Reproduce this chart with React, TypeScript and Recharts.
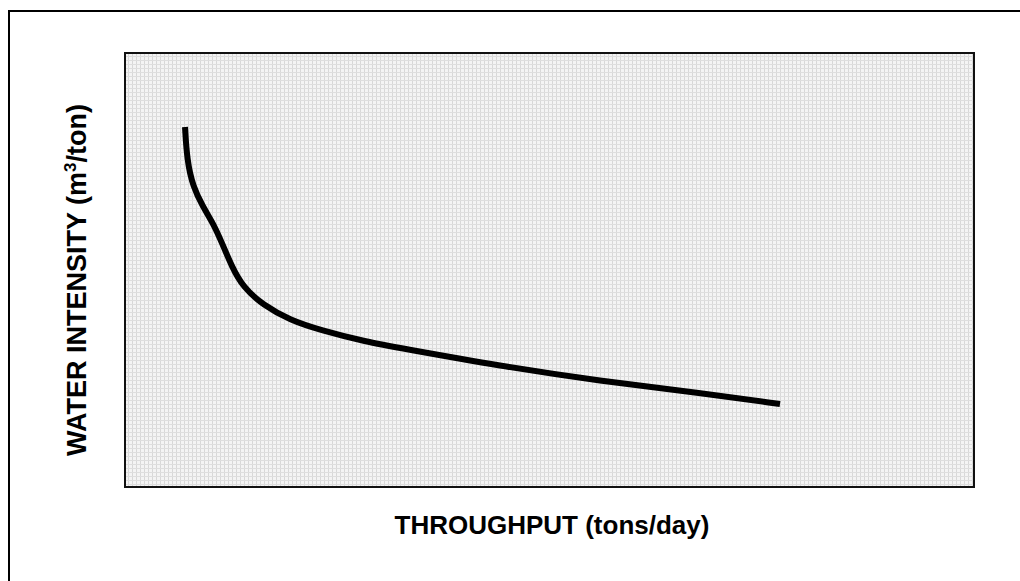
import React from 'react';
import { LineChart, Line, XAxis, YAxis, ReferenceArea } from 'recharts';

// throughput (arbitrary units, 0-100 across the plot)
const throughput = [7.07, 7.3, 8.01, 9.19, 10.36, 11.43, 12.6, 13.9, 16.25, 19.43, 22.97, 28.5, 32.39, 44.17, 55.95, 67.73, 77.15];
// water intensity (arbitrary units, 0-100 up the plot)
const intensity = [82.95, 75.35, 69.12, 64.52, 60.83, 56.22, 50.69, 46.08, 41.94, 38.48, 36.18, 33.41, 32.03, 27.88, 24.42, 21.66, 19.12];

const data = throughput.map((x, i) => ({ x, y: intensity[i] }));

const FONT = '"Liberation Sans", Arial, sans-serif';

export default function App() {
  return (
    <div
      style={{
        position: 'fixed',
        left: 0,
        top: 0,
        width: 1020,
        height: 581,
        overflow: 'hidden',
        background: '#fff',
      }}
    >
      <div
        style={{
          position: 'absolute',
          left: 8,
          top: 10,
          width: 2000,
          height: 2000,
          borderLeft: '2px solid #000',
          borderTop: '2px solid #000',
        }}
      />
      <div style={{ position: 'absolute', left: 8, top: 8 }}>
        <LineChart
          width={1012}
          height={573}
          data={data}
          margin={{ top: 45, right: 46, bottom: 94, left: 117 }}
        >
          <defs>
            <pattern id="bgPattern" width="4" height="4" patternUnits="userSpaceOnUse">
              <rect width="4" height="4" fill="#f4f4f4" />
              <rect x="0" y="0" width="1" height="4" fill="#d8d8d8" />
              <rect x="0" y="0" width="4" height="1" fill="#dedede" />
            </pattern>
          </defs>
          <XAxis type="number" dataKey="x" domain={[0, 100]} hide />
          <YAxis type="number" dataKey="y" domain={[0, 100]} hide />
          <ReferenceArea
            x1={0}
            x2={100}
            y1={0}
            y2={100}
            fill="url(#bgPattern)"
            fillOpacity={1}
            stroke="#111"
            strokeWidth={2}
          />
          <Line
            type="basis"
            dataKey="y"
            stroke="#000"
            strokeWidth={6}
            dot={false}
            isAnimationActive={false}
          />
        </LineChart>
      </div>
      <div
        style={{
          position: 'absolute',
          left: 552 - 300,
          top: 510,
          width: 600,
          textAlign: 'center',
          fontFamily: FONT,
          fontWeight: 'bold',
          fontSize: 26,
          lineHeight: '30px',
          color: '#000',
        }}
      >
        THROUGHPUT (tons/day)
      </div>
      <div
        style={{
          position: 'absolute',
          left: 77 - 250,
          top: 280 - 16,
          width: 500,
          height: 32,
          lineHeight: '32px',
          textAlign: 'center',
          fontFamily: FONT,
          fontWeight: 'bold',
          fontSize: 27,
          color: '#000',
          transform: 'rotate(-90deg)',
          whiteSpace: 'nowrap',
        }}
      >
        WATER INTENSITY (m<sup style={{ fontSize: 17, lineHeight: 0 }}>3</sup>/ton)
      </div>
    </div>
  );
}
